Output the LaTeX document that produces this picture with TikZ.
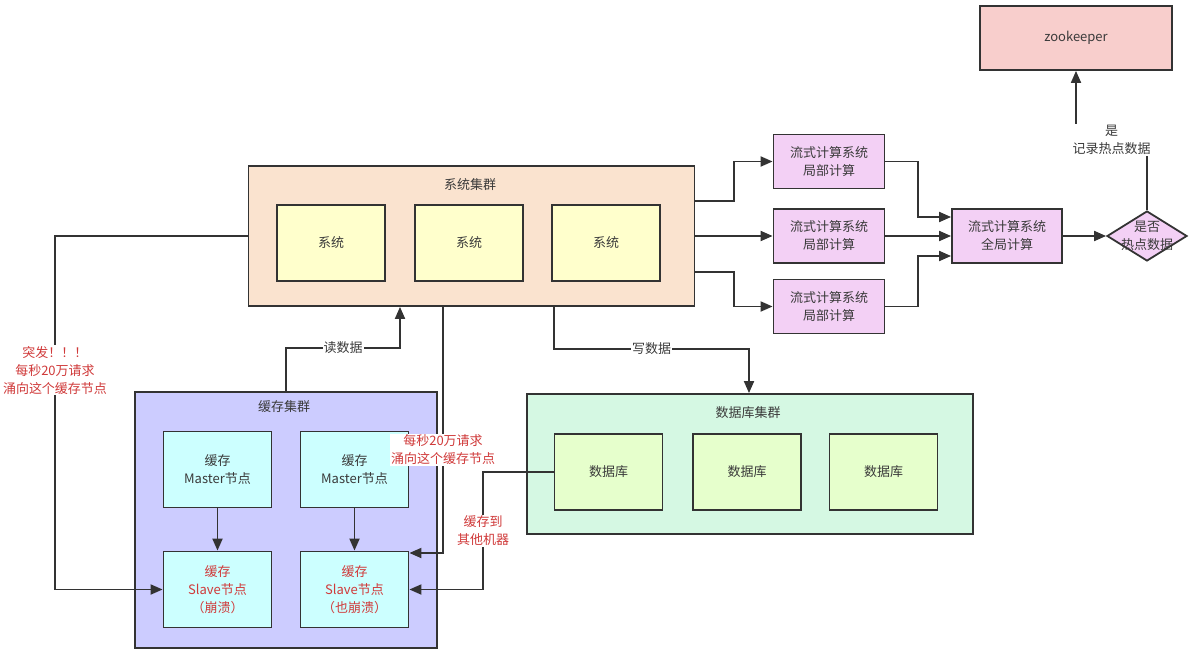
\documentclass[tikz,border=0pt]{standalone}
\usepackage{fontspec}
\setmainfont{Noto Sans CJK SC}
\usetikzlibrary{arrows.meta,shapes.geometric}

\definecolor{linec}{HTML}{333333}
\definecolor{txtc}{HTML}{3A3A3A}
\definecolor{redc}{HTML}{D03A3A}
\definecolor{sysfill}{HTML}{FAE3CF}
\definecolor{sysbox}{HTML}{FFFFCC}
\definecolor{cachefill}{HTML}{CCCCFF}
\definecolor{cachebox}{HTML}{CCFFFF}
\definecolor{dbfill}{HTML}{D5F8E3}
\definecolor{dbbox}{HTML}{E6FFCC}
\definecolor{streamfill}{HTML}{F3D0F5}
\definecolor{zkfill}{HTML}{F8CECC}

\begin{document}
\begin{tikzpicture}[x=1pt,y=-1pt,
  font=\fontsize{13}{18}\selectfont,
  box/.style={draw=linec,line width=1.8pt,inner sep=0pt,align=center,text=txtc,minimum width=108pt,minimum height=76pt},
  cluster/.style={draw=linec,line width=1.8pt,inner sep=0pt},
  arr/.style={draw=linec,line width=1.8pt,-{Triangle[length=12pt,width=10pt]}},
  lbl/.style={fill=white,inner sep=1pt,text=txtc,align=center},
  redlbl/.style={fill=white,inner sep=1pt,text=redc,align=center}]

  \useasboundingbox (0,0) rectangle (1192,656);

  % clusters
  \node[cluster,fill=sysfill,minimum width=446pt,minimum height=140pt] (syscl) at (471.5,236) {};
  \node[text=txtc] (sysclttl) at (470,185) {系统集群};
  \node[cluster,fill=cachefill,minimum width=302pt,minimum height=256pt] (cachecl) at (286,520) {};
  \node[text=txtc] (cacheclttl) at (284,407) {缓存集群};
  \node[cluster,fill=dbfill,minimum width=446pt,minimum height=140pt] (dbcl) at (750,464) {};
  \node[text=txtc] (dbclttl) at (748,413) {数据库集群};

  % systems
  \node[box,fill=sysbox] (sys1) at (331,243) {系统};
  \node[box,fill=sysbox] (sys2) at (469,243) {系统};
  \node[box,fill=sysbox] (sys3) at (606,243) {系统};

  % cache nodes
  \node[box,fill=cachebox] (m1) at (217.5,469.5) {缓存\\Master节点};
  \node[box,fill=cachebox] (m2) at (354.5,469.5) {缓存\\Master节点};
  \node[box,fill=cachebox,text=redc] (s1) at (217.5,589.5) {缓存\\Slave节点\\（崩溃）};
  \node[box,fill=cachebox,text=redc] (s2) at (354.5,589.5) {缓存\\Slave节点\\（也崩溃）};

  % databases
  \node[box,fill=dbbox] (db1) at (608.5,472) {数据库};
  \node[box,fill=dbbox] (db2) at (747,472) {数据库};
  \node[box,fill=dbbox] (db3) at (883.5,472) {数据库};

  % stream computing
  \node[box,fill=streamfill,minimum width=111pt,minimum height=54pt] (loc1) at (829,161.5) {流式计算系统\\局部计算};
  \node[box,fill=streamfill,minimum width=111pt,minimum height=54pt] (loc2) at (829,236) {流式计算系统\\局部计算};
  \node[box,fill=streamfill,minimum width=111pt,minimum height=54pt] (loc3) at (829,306.5) {流式计算系统\\局部计算};
  \node[box,fill=streamfill,minimum width=110pt,minimum height=54pt] (glob) at (1007,236) {流式计算系统\\全局计算};
  \node[diamond,draw=linec,line width=1.8pt,fill=streamfill,minimum width=80pt,minimum height=50pt,inner sep=0pt] (dia) at (1147,236) {};
  \node[text=txtc,align=center] (diatxt) at (dia) {是否\\热点数据};
  \node[box,fill=zkfill,minimum width=192pt,minimum height=64pt] (zk) at (1076,38) {zookeeper};

  % connectors
  \draw[arr] (syscl.east |- 0,201) -- (734,201) |- (loc1.west);
  \draw[arr] (syscl.east) -- (loc2.west);
  \draw[arr] (syscl.east |- 0,272) -- (734,272) |- (loc3.west);
  \draw[arr] (loc1.east) -| (918,217) -- (glob.west |- 0,217);
  \draw[arr] (loc2.east) -- (glob.west);
  \draw[arr] (loc3.east) -| (918,256) -- (glob.west |- 0,256);
  \draw[arr] (glob.east) -- (dia.west);
  \draw[arr] (dia.north) -- (dia.north |- 0,140) -- node[lbl]{是\\记录热点数据} (zk.south |- 0,140) -- (zk.south);

  \draw[arr] (syscl.west) -- (55,236) -- node[pos=0.38,redlbl]{突发！！！\\每秒20万请求\\涌向这个缓存节点} (55,589.5) -- (s1.west);
  \draw[arr] (cachecl.north) -- (cachecl.north |- 0,348) -- node[lbl]{读数据} (400,348) -- (syscl.south -| 400,0);
  \draw[arr] (syscl.south -| 443,0) -- node[pos=0.58,redlbl]{每秒20万请求\\涌向这个缓存节点} (443,553) -- (s2.east |- 0,553);
  \draw[arr] (syscl.south -| 554,0) -- (554,349) -- node[lbl]{写数据} (749,349) -- (dbcl.north -| 749,0);
  \draw[arr] (db1.west) -- (483,472) -- node[redlbl]{缓存到\\其他机器} (483,589.5) -- (s2.east);
  \draw[arr] (m1) -- (s1);
  \draw[arr] (m2) -- (s2);

\end{tikzpicture}
\end{document}
